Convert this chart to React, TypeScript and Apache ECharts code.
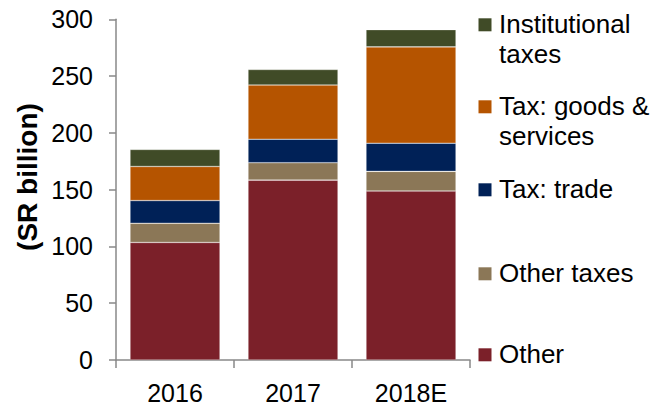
import React, { useEffect, useRef } from "react";
import * as echarts from "echarts";

const categories = ["2016", "2017", "2018E"];
const yTicks = [0, 50, 100, 150, 200, 250, 300];
const seriesNames = ["Other", "Other taxes", "Tax: trade", "Tax: goods & services", "Institutional taxes"];
const otherValues = [103.5, 158.4, 148.8];
const otherTaxesValues = [16.9, 15.3, 17.3];
const tradeValues = [20.0, 20.7, 24.8];
const goodsValues = [30.0, 47.7, 84.8];
const institutionalValues = [15.0, 13.7, 15.2];
const seriesColors = ["#7B2029", "#8B7757", "#002157", "#B55400", "#404B27"];
const legendLabels = ["Other", "Other taxes", "Tax: trade", "Tax: goods &\nservices", "Institutional\ntaxes"];
const axisName = "(SR billion)";

export default function App() {
  const ref = useRef<HTMLDivElement>(null);
  useEffect(() => {
    if (!ref.current) return;
    const chart = echarts.init(ref.current, undefined, { renderer: "svg" });
    const values = [otherValues, otherTaxesValues, tradeValues, goodsValues, institutionalValues];
    const font = "'Liberation Sans', Arial, sans-serif";
    const legendY = [353.3, 272.3, 188.3, 105.3, 23.3];
    const legendGraphics: any[] = [];
    legendLabels.forEach((lab, i) => {
      legendGraphics.push({
        type: "rect",
        shape: { x: 478.5, y: legendY[i] - 5, width: 13, height: 13 },
        style: { fill: seriesColors[i] },
      });
      legendGraphics.push({
        type: "text",
        x: 499,
        y: legendY[i] - 14,
        style: {
          text: lab,
          font: `26px ${font}`,
          fill: "#000",
          lineHeight: 30,
          verticalAlign: "top",
          align: "left",
        },
      });
    });
    legendGraphics.push({
      type: "text",
      x: 27.5,
      y: 177,
      rotation: Math.PI / 2,
      style: {
        text: axisName,
        font: `bold 28px ${font}`,
        fill: "#000",
        align: "center",
        verticalAlign: "middle",
      },
    });
    chart.setOption({
      animation: false,
      textStyle: { fontFamily: font },
      grid: { left: 116, right: 192, top: 19.3, bottom: 43.7, containLabel: false },
      xAxis: {
        type: "category",
        data: categories,
        boundaryGap: true,
        axisLine: { lineStyle: { color: "#898989", width: 1.5 } },
        axisTick: { show: true, length: 8, alignWithLabel: false, lineStyle: { color: "#898989", width: 1.5 } },
        axisLabel: { color: "#000", fontSize: 25, margin: 20, fontFamily: font },
      },
      yAxis: {
        type: "value",
        min: yTicks[0],
        max: yTicks[yTicks.length - 1],
        interval: yTicks[1] - yTicks[0],
        splitLine: { show: false },
        axisLine: { show: true, lineStyle: { color: "#898989", width: 1.5 } },
        axisTick: { show: true, length: 7, lineStyle: { color: "#898989", width: 1.5 } },
        axisLabel: { color: "#000", fontSize: 25, margin: 23, fontFamily: font },
      },
      series: seriesNames.map((name, i) => ({
        name,
        type: "bar",
        stack: "total",
        barWidth: 90,
        data: values[i],
        itemStyle: { color: seriesColors[i], borderColor: "rgba(255,255,255,0.45)", borderWidth: 0.6 },
      })),
      graphic: legendGraphics,
    });
    return () => chart.dispose();
  }, []);
  return (
    <div
      ref={ref}
      style={{ position: "fixed", left: 0, top: 0, width: 662, height: 405, background: "#fff" }}
    />
  );
}
